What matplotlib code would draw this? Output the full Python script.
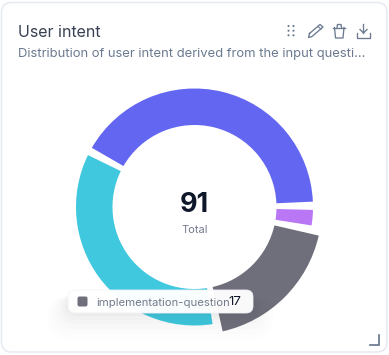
import matplotlib
matplotlib.use("Agg")
import matplotlib.pyplot as plt
from matplotlib.patches import Wedge, FancyBboxPatch, Circle

W, H = 389, 355
plt.rcParams['font.family'] = ['Inter', 'DejaVu Sans']

categories = ['question', 'how-to-question', 'implementation-question', 'other']
values = [39, 33, 17, 2]
colors = ['#6366f1', '#40c8de', '#6f6f7b', '#b977f5']
total_label = 'Total'
title = 'User intent'
subtitle = 'Distribution of user intent derived from the input questi...'
highlighted = 'implementation-question'

fig = plt.figure(figsize=(W / 100, H / 100), dpi=100)
ax = fig.add_axes([0, 0, 1, 1])
ax.set_xlim(0, W)
ax.set_ylim(0, H)
ax.axis('off')

def Y(py):
    return H - py

def box(x0, y0, x1, y1, r, **kw):
    p = FancyBboxPatch((x0 + r, Y(y1) + r), x1 - x0 - 2 * r, y1 - y0 - 2 * r,
                       boxstyle=f'round,pad={r},rounding_size={r}', **kw)
    ax.add_patch(p)
    return p

# card
box(1.5, 2.5, 387, 352, 10, fc='white', ec='#e4e8ef', lw=1.0, zorder=1)

# donut
cx, cy = 194.5, 207
r_out, r_in, r_hi = 118.5, 82, 127.5
pad = 4.0
unit = (360 - pad * len(values)) / sum(values)
a = 2.6
for c, v, col in zip(categories, values, colors):
    b = a + v * unit
    R = r_hi if c == highlighted else r_out
    ax.add_patch(Wedge((cx, Y(cy)), R, a, b, width=R - r_in, fc=col, ec='none', zorder=2))
    a = b + pad

ax.text(cx, Y(205.5), str(sum(values)), ha='center', va='center', fontsize=19.5,
        fontweight='bold', color='#0f172a', zorder=3)
ax.text(cx, Y(230), total_label, ha='center', va='center', fontsize=8, color='#737b8c', zorder=3)

# header text
ax.text(18, Y(37), title, ha='left', va='baseline', fontsize=11.5, color='#374151', zorder=3)
ax.text(18, Y(57), subtitle, ha='left', va='baseline', fontsize=9.4, color='#6b7a90', zorder=3)

# icons
ic = '#6b7a90'
lw = 0.95
for dx in (288.5, 293.5):
    for dy in (26, 30.7, 35.3):
        ax.add_patch(Circle((dx, Y(dy)), 1.05, fc=ic, ec='none', zorder=3))
ax.plot([309.5, 320, 323, 312, 308.5, 309.5], [Y(33.5), Y(24.5), Y(27), Y(36.5), Y(37.5), Y(33.5)],
        color=ic, lw=lw, zorder=3, solid_joinstyle='round')
ax.plot([318, 321], [Y(26.5), Y(29)], color=ic, lw=0.8, zorder=3)
ax.plot([334.5, 335.5, 343, 344], [Y(27.5), Y(38), Y(38), Y(27.5)], color=ic, lw=lw, zorder=3)
ax.plot([333, 345.5], [Y(27.5), Y(27.5)], color=ic, lw=lw, zorder=3)
ax.plot([337, 337.5, 341, 341.5], [Y(27.5), Y(24.5), Y(24.5), Y(27.5)], color=ic, lw=lw, zorder=3)
ax.plot([363.5, 363.5], [Y(24), Y(33)], color=ic, lw=lw, zorder=3)
ax.plot([360, 363.5, 367], [Y(29.5), Y(33), Y(29.5)], color=ic, lw=lw, zorder=3)
ax.plot([357, 357, 370, 370], [Y(33), Y(37.5), Y(37.5), Y(33)], color=ic, lw=lw, zorder=3)

# resize handle
ax.plot([370.5, 379.5, 379.5], [Y(344.5), Y(344.5), Y(335)], color='#64748b', lw=1.2,
        zorder=3, solid_joinstyle='miter')

# tooltip shadow and body
for grow, alpha in zip((26, 21, 16, 11, 7, 3), (0.006, 0.008, 0.010, 0.012, 0.016, 0.022)):
    box(68 - grow * 0.8, 296, 253 + grow * 0.8, 313 + grow, 10 + grow * 0.5,
        fc='#1f2937', ec='none', alpha=alpha, zorder=4)
box(68, 290, 253, 313, 7, fc='white', ec='#f1f3f6', lw=0.6, alpha=0.97, zorder=5)
box(77.5, 296.5, 87.5, 306.5, 2, fc=colors[categories.index(highlighted)], ec='none', zorder=6)
ax.text(96, Y(305.5), highlighted, ha='left', va='baseline', fontsize=8.15, color='#737b8c', zorder=6)
ax.text(228.5, Y(305), str(values[categories.index(highlighted)]), ha='left', va='baseline',
        fontsize=9.5, color='#111827', zorder=6)

fig.savefig('out.png', dpi=100)
